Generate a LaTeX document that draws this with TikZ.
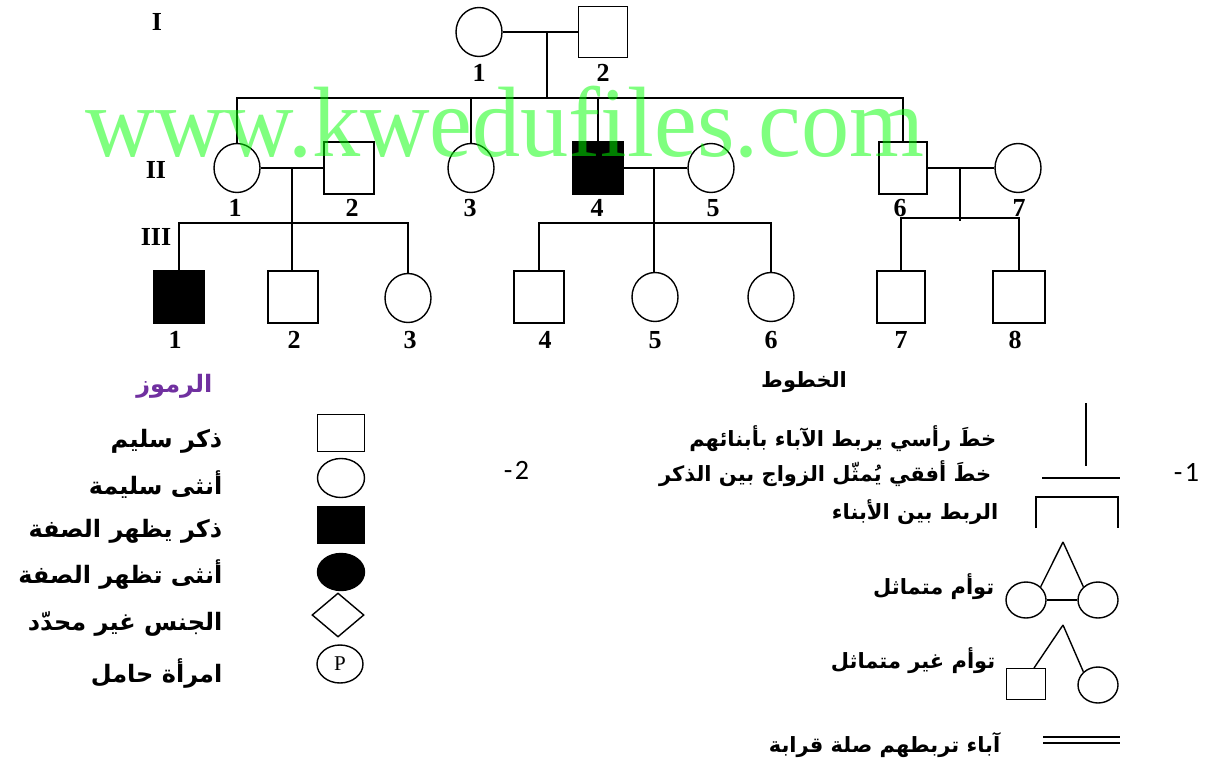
\documentclass[tikz,border=0pt]{standalone}
\usepackage{fontspec}
\setmainfont{Liberation Serif}
\newfontfamily\arabicfont[Script=Arabic]{DejaVu Sans}
\newfontfamily\calfont{Carlito}
\TeXXeTstate=1
\usetikzlibrary{shapes.geometric, positioning}
\definecolor{mpurple}{HTML}{7030A0}
\tikzset{
  male/.style={draw, rectangle, minimum width=50pt, minimum height=52pt, inner sep=0pt},
  female/.style={draw, ellipse, minimum width=46pt, minimum height=49pt, inner sep=0pt},
  affected/.style={fill=black},
  num/.style={font=\fontsize{26}{26}\selectfont\bfseries, inner sep=0pt},
  artext/.style={anchor=east, inner sep=0pt, font=\fontsize{24}{29}\selectfont\arabicfont\bfseries},
  arsmall/.style={anchor=east, inner sep=0pt, font=\fontsize{21}{25}\selectfont\arabicfont\bfseries},
  keymale/.style={draw, rectangle, minimum width=47pt, minimum height=37pt, inner sep=0pt},
  keyfemale/.style={draw, ellipse, minimum width=47pt, minimum height=39pt, inner sep=0pt},
  twinc/.style={draw, ellipse, minimum width=40pt, minimum height=36pt, inner sep=0pt},
  sidelabel/.style={font=\fontsize{28}{28}\selectfont\calfont, inner sep=0pt},
}

\begin{document}
\begin{tikzpicture}[x=1pt, y=-1pt, line width=1.4pt]
  \useasboundingbox (0,0) rectangle (1214,762);

  % generation I
  \node[num] (g1) at (157,22) {I};
  \node[female] (i1) at (479,32) {};
  \node[male, minimum width=49pt, minimum height=51pt] (i2) at (603,32) {};
  \node[num] (n-i1) at (479,73) {1};
  \node[num] (n-i2) at (603,73) {2};
  \coordinate (m1) at (547,32);
  \coordinate (s1) at (547,98);

  % generation II
  \node[num] (g2) at (156,170) {II};
  \node[female] (ii1) at (237,168) {};
  \node[male] (ii2) at (349,168) {};
  \node[female] (ii3) at (471,168) {};
  \node[male, affected] (ii4) at (598,168) {};
  \node[female] (ii5) at (711,168) {};
  \node[male, minimum width=48pt] (ii6) at (903,168) {};
  \node[female] (ii7) at (1018,168) {};
  \node[num] (n-ii1) at (235,208) {1};
  \node[num] (n-ii2) at (352,208) {2};
  \node[num] (n-ii3) at (470,208) {3};
  \node[num] (n-ii4) at (597,208) {4};
  \node[num] (n-ii5) at (713,208) {5};
  \node[num] (n-ii6) at (900,208) {6};
  \node[num] (n-ii7) at (1019,208) {7};
  \coordinate (m2) at (292,168);
  \coordinate (m3) at (654,168);
  \coordinate (m4) at (960,168);
  \coordinate (s2) at (292,223);
  \coordinate (s4) at (960,221);
  \coordinate (s4b) at (960,218);

  % generation III
  \node[num] (g3) at (156,237) {III};
  \node[male, affected] (iii1) at (179,297) {};
  \node[male] (iii2) at (293,297) {};
  \node[female] (iii3) at (408,298) {};
  \node[male] (iii4) at (539,297) {};
  \node[female] (iii5) at (655,297) {};
  \node[female] (iii6) at (771,297) {};
  \node[male, minimum width=48pt] (iii7) at (901,297) {};
  \node[male, minimum width=52pt] (iii8) at (1019,297) {};
  \node[num] (n-iii1) at (175,340) {1};
  \node[num] (n-iii2) at (294,340) {2};
  \node[num] (n-iii3) at (410,340) {3};
  \node[num] (n-iii4) at (545,340) {4};
  \node[num] (n-iii5) at (655,340) {5};
  \node[num] (n-iii6) at (771,340) {6};
  \node[num] (n-iii7) at (901,340) {7};
  \node[num] (n-iii8) at (1015,340) {8};

  \draw (i1.east) -- (i2.west);
  \draw (m1) -- (s1);
  \draw (ii1.north) -- (ii1.north |- s1) -- (ii6.north |- s1) -- (ii6.north);
  \draw (ii3.north) -- (ii3.north |- s1);
  \draw (ii4.north) -- (ii4.north |- s1);

  \draw (ii1.east) -- (ii2.west);
  \draw (m2) -- (m2 |- iii2.north);
  \draw (iii1.north) -- (iii1.north |- s2) -- (iii3.north |- s2) -- (iii3.north);

  \draw (ii4.east) -- (ii5.west);
  \draw (m3) -- (m3 |- iii5.north);
  \draw (iii4.north) -- (iii4.north |- s2) -- (iii6.north |- s2) -- (iii6.north);

  \draw (ii6.east) -- (ii7.west);
  \draw (m4) -- (s4);
  \draw (iii7.north) -- (iii7.north |- s4b) -- (iii8.north |- s4b) -- (iii8.north);

  % symbols key
  \node[artext, text=mpurple] (k0) at (213,386) {\beginR الرموز\endR};
  \node[keymale] (k1) at (341,433) {};
  \node[keyfemale] (k2) at (341,478) {};
  \node[keymale, fill=black] (k3) at (341,525) {};
  \node[keyfemale, fill=black, minimum height=37pt] (k4) at (341,572) {};
  \node[draw, diamond, minimum width=52pt, minimum height=44pt, inner sep=0pt] (k5) at (338,615) {};
  \node[keyfemale, minimum width=46pt, minimum height=38pt, font=\fontsize{21}{21}\selectfont] (k6) at (340,664) {P};
  \node[artext] (t1) at (223,441) {\beginR ذكر سليم\endR};
  \node[artext] (t2) at (223,485) {\beginR أنثى سليمة\endR};
  \node[artext] (t3) at (223,531) {\beginR ذكر يظهر الصفة\endR};
  \node[artext] (t4) at (223,575) {\beginR أنثى تظهر الصفة\endR};
  \node[artext] (t5) at (223,624) {\beginR الجنس غير محدّد\endR};
  \node[artext] (t6) at (223,674) {\beginR امرأة حامل\endR};
  \node[sidelabel] (lab2) at (522,470) {2};
  \node[sidelabel, anchor=base east] (dash2) at ([xshift=-1pt]lab2.base west) {-};

  % lines key
  \node[arsmall, anchor=center] (h0) at (804,382) {\beginR الخطوط\endR};
  \coordinate (v1) at (1086,403);
  \coordinate (v2) at (1086,466);
  \draw (v1) -- (v2);
  \coordinate (h1) at (1042,478);
  \coordinate (h2) at (1120,478);
  \draw (h1) -- (h2);
  \coordinate (b1) at (1036,528);
  \coordinate (b2) at (1118,528);
  \draw (b1) -- (b1 |- 0,497) -- (b2 |- 0,497) -- (b2);

  \coordinate (apex1) at (1063,542);
  \node[twinc] (tw1) at (1026,600) {};
  \node[twinc] (tw2) at (1098,600) {};
  \draw (apex1) -- (tw1.north east);
  \draw (apex1) -- (tw2.north west);
  \draw (tw1.east) -- (tw2.west);

  \coordinate (apex2) at (1063,625);
  \node[draw, rectangle, minimum width=39pt, minimum height=31pt, inner sep=0pt] (tw3) at (1026,684) {};
  \node[twinc] (tw4) at (1098,685) {};
  \draw (apex2) -- (1034,668);
  \draw (apex2) -- (tw4.north west);

  \coordinate (d1) at (1043,737);
  \coordinate (d2) at (1120,737);
  \draw (d1) -- (d2);
  \draw ([yshift=-6pt]d1) -- ([yshift=-6pt]d2);

  \node[arsmall] (u1) at (997,439) {\beginR خطَ رأسي يربط الآباء بأبنائهم\endR};
  \node[arsmall] (u2) at (992,474) {\beginR خطَ أفقي يُمثّل الزواج بين الذكر\endR};
  \node[arsmall] (u3) at (999,512) {\beginR الربط بين الأبناء\endR};
  \node[arsmall] (u4) at (995,587) {\beginR توأم متماثل\endR};
  \node[arsmall] (u5) at (996,661) {\beginR توأم غير متماثل\endR};
  \node[arsmall] (u6) at (1001,745) {\beginR آباء تربطهم صلة قرابة\endR};
  \node[sidelabel] (lab1) at (1192,472) {1};
  \node[sidelabel, anchor=base east] (dash1) at ([xshift=-1pt]lab1.base west) {-};

  % watermark
  \node[anchor=base west, inner sep=0pt, xscale=0.963, text=green, text opacity=0.5,
        font=\fontsize{100}{100}\selectfont] (wm) at (85,157) {www.kwedufiles.com};
\end{tikzpicture}
\end{document}
